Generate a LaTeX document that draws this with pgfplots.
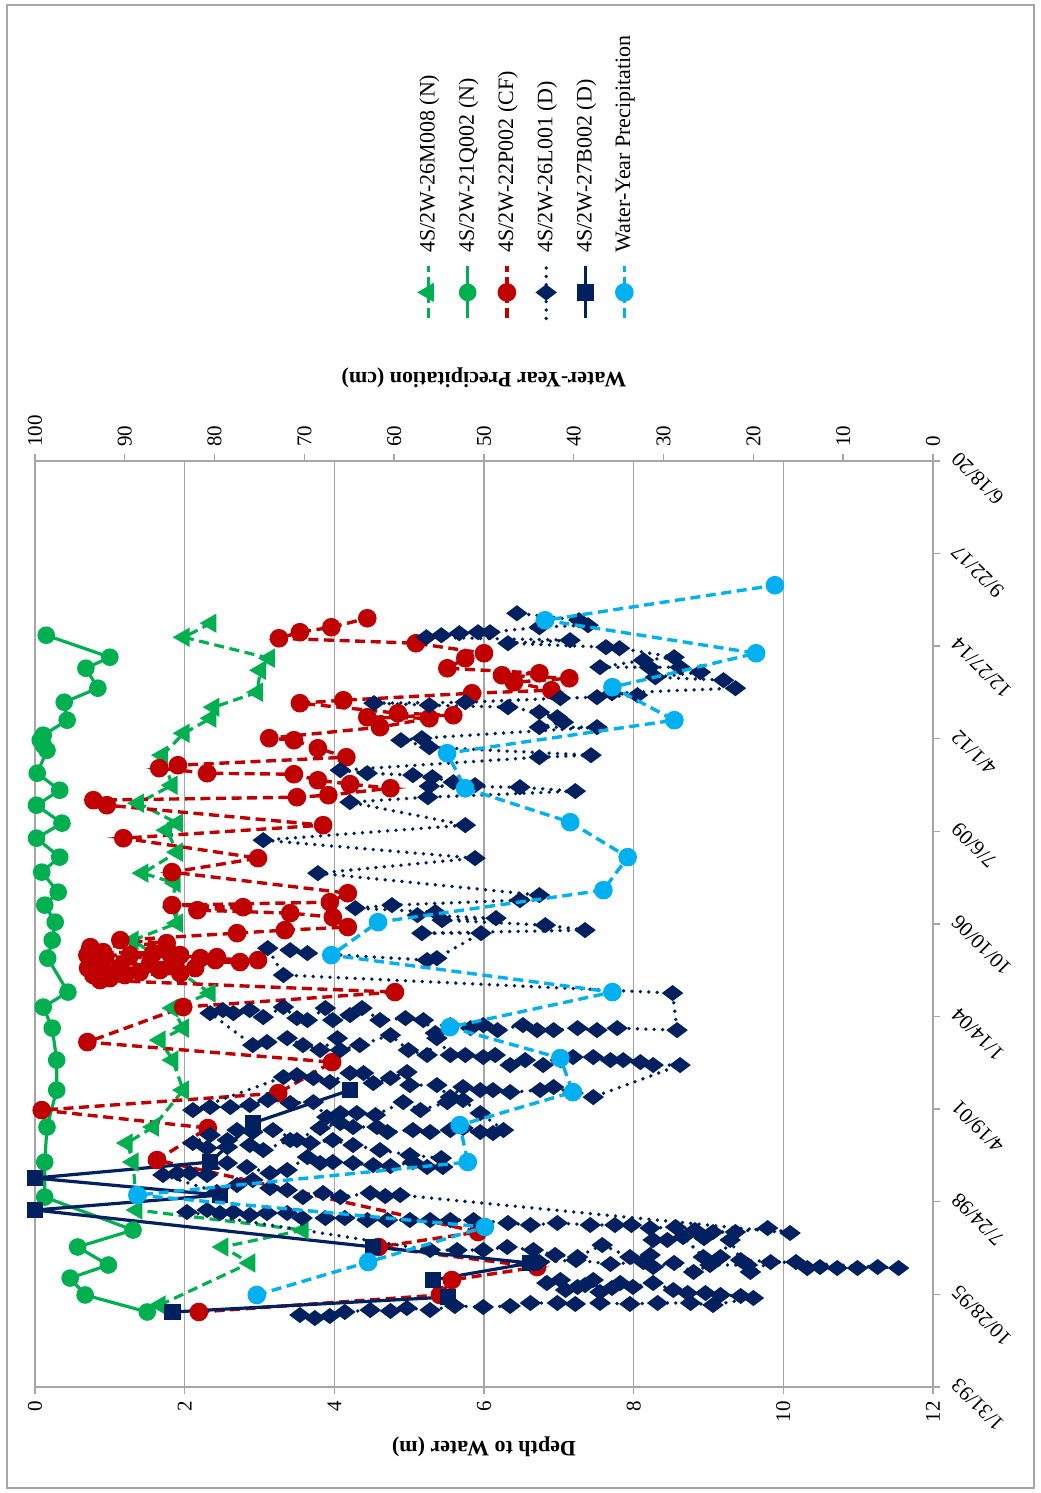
\documentclass[border=0pt]{standalone}
\usepackage{graphicx}
\usepackage{fontspec}
\setmainfont{Liberation Serif}
\usepackage{pgfplots}
\pgfplotsset{compat=1.18}
\definecolor{cgreen}{HTML}{00B050}
\definecolor{cred}{HTML}{C00000}
\definecolor{cnavy}{HTML}{002060}
\definecolor{cblue}{HTML}{00B0F0}
\definecolor{cgrid}{HTML}{A6A6A6}
\pgfplotsset{
 m26/.style={cgreen, line width=1.6pt, dash pattern=on 5pt off 2.8pt, mark=triangle*, mark size=4pt, mark options={solid, fill=cgreen}},
 q21/.style={cgreen, line width=1.6pt, solid, mark=*, mark size=3.6pt, mark options={solid, fill=cgreen}},
 p22/.style={cred, line width=1.7pt, dash pattern=on 5pt off 2.8pt, mark=*, mark size=3.8pt, mark options={solid, fill=cred}},
 l26/.style={cnavy, line width=1.9pt, line cap=round, dash pattern=on 0pt off 4.2pt, mark=diamond*, mark size=3.8pt, mark options={solid, fill=cnavy}},
 b27/.style={cnavy, line width=1.6pt, solid, mark=square*, mark size=3.3pt, mark options={solid, fill=cnavy}},
 wyp/.style={cblue, line width=1.7pt, dash pattern=on 5pt off 2.8pt, mark=*, mark size=3.8pt, mark options={solid, fill=cblue}},
}
\begin{document}%
\rotatebox{90}{%
\begin{tikzpicture}[x=1pt,y=1pt]
\useasboundingbox (0,0) rectangle (746.5,520);
\draw[cgrid, line width=0.7pt] (2.5,3) rectangle (744,516.5);
\begin{axis}[
 at={(53pt,53.5pt)}, anchor=south west,
 width=463pt, height=449pt, scale only axis,
 xmin=0, xmax=11000, ymin=0, ymax=12, y dir=reverse,
 scaled x ticks=false, scaled y ticks=false,
 clip=false,
 axis x line=none, axis y line*=left,
 axis line style={cgrid, line width=0.7pt},
 xtick=\empty, ytick={0,2,...,12},
 tick align=outside, major tick length=3.5pt,
 tick style={cgrid, line width=0.7pt},
 ymajorgrids, grid style={cgrid, line width=0.7pt},
 /pgf/number format/assume math mode=true,
 tick label style={font=\fontsize{10.5}{12}\selectfont},
 ylabel={Depth to Water (m)},
 ylabel style={font=\bfseries\fontsize{11}{13}\selectfont, at={(axis description cs:-0.065,0.5)}, anchor=center},
 legend style={draw=none, fill=none, at={(axis description cs:1.145,0.453)}, anchor=west,
   font=\fontsize{11}{13}\selectfont, row sep=6.5pt, legend cell align=left,
   /tikz/every odd column/.append style={column sep=4pt}},
 legend image code/.code={\draw[mark repeat=2,mark phase=2] plot coordinates {(0pt,0pt) (13pt,0pt) (26pt,0pt)};},
]
% 4S/2W-26M008 (N)
\addplot[m26] coordinates {
(974,1.67) (1473,2.87) (1663,2.51) (1864,3.58) (2102,1.36) (2672,1.31) (2898,1.23) (3088,1.58)
(3527,1.98) (3883,1.84) (4121,1.67) (4263,1.98) (4501,1.84) (4679,2.34) (5308,1.31) (5510,1.90)
(5700,1.84) (5985,1.87) (6104,1.44) (6353,1.90) (6614,1.76) (6698,1.90) (6935,1.38) (7149,1.83)
(7505,1.70) (7766,1.99) (7944,2.35) (8075,2.39) (8253,2.97) (8514,3.01) (8657,3.13) (8906,1.99) (9073,2.35)
};
\addlegendentry{4S/2W-26M008 (N)}
% 4S/2W-21Q002 (N)
\addplot[q21] coordinates {
(891,1.50) (1093,0.67) (1294,0.47) (1449,0.98) (1663,0.57) (1864,1.31) (2256,0.13) (2672,0.13)
(3088,0.16) (3527,0.29) (3883,0.29) (4263,0.23) (4513,0.11) (4691,0.44) (5094,0.17) (5308,0.23)
(5522,0.27) (5724,0.13) (5878,0.31) (6116,0.09) (6294,0.33) (6519,0.02) (6698,0.36) (6911,0.02)
(7089,0.33) (7291,0.03) (7564,0.16) (7624,0.11) (7683,0.07) (7743,0.11) (7921,0.43) (8134,0.39)
(8301,0.84) (8538,0.68) (8669,1.00) (8930,0.15)
};
\addlegendentry{4S/2W-21Q002 (N)}
% 4S/2W-22P002 (CF)
\addplot[p22] coordinates {
(891,2.19) (1093,5.41) (1271,5.57) (1425,6.71) (1663,4.59) (1841,5.92) (2696,1.63) (3076,2.31)
(3289,0.09) (3491,3.25) (3859,3.97) (4097,0.70) (4513,1.98) (4691,4.81)
(4833,0.87) (4857,1.00) (4893,0.78) (4893,1.20) (4916,1.94) (4928,1.40) (4952,1.67) (4976,2.14)
(4976,0.71) (4988,1.14) (5011,0.87) (5035,1.54) (5047,1.87) (5047,2.74) (5071,2.41) (5071,2.98)
(5094,2.21) (5106,0.94) (5106,2.43) (5130,0.70) (5130,1.27) (5130,1.94) (5154,1.80) (5154,1.58)
(5166,0.91) (5225,0.74) (5273,1.76) (5308,1.14)
(5391,2.70) (5427,3.34) (5463,4.18) (5581,3.98) (5629,3.41) (5664,2.17) (5700,2.78) (5724,1.83)
(5759,3.94) (5866,4.18) (6116,1.83) (6282,2.98) (6519,1.18) (6674,3.85) (6911,0.96) (6971,0.78)
(7006,3.50) (7030,3.92) (7113,4.75) (7161,4.21) (7208,3.78) (7279,3.46) (7291,2.30) (7351,1.66)
(7386,1.91) (7481,4.16) (7588,3.78) (7683,3.46) (7707,3.13) (7838,4.61) (7944,5.27) (7956,4.44)
(7980,5.59) (8004,4.85) (8123,3.54) (8158,4.12) (8241,5.84) (8277,6.90) (8372,6.40) (8419,7.14)
(8455,6.24) (8479,6.74) (8538,5.51) (8657,5.75) (8716,6.00) (8835,5.09) (8894,3.26) (8966,3.54)
(9025,3.96) (9132,4.44)
};
\addlegendentry{4S/2W-22P002 (CF)}
% 4S/2W-26L001 (D)
\addplot[l26] coordinates {
(855,3.54) (819,3.74) (843,3.94) (891,4.14) (914,4.48) (903,4.75) (938,4.97) (914,5.28) (962,5.61)
(950,5.99) (962,6.35) (998,6.62) (998,6.98) (986,7.22) (998,7.55) (986,7.95) (998,8.32) (998,8.76)
(974,9.06) (1057,9.60)
(1081,9.43) (1093,9.16) (1116,8.96) (1116,8.72) (1152,8.53) (1235,8.26) (1188,7.99) (1235,7.82)
(1176,7.71) (1128,7.55) (1271,7.46) (1211,7.35) (1188,7.25) (1152,7.09) (1271,7.02) (1235,6.84)
(1484,6.74) (1508,7.23) (1461,7.69) (1484,8.13) (1425,8.26) (1473,8.54) (1366,8.80) (1449,9.02)
(1449,9.52) (1366,9.56) (1484,9.83) (1484,10.17) (1413,10.32) (1425,10.49) (1413,10.72) (1413,10.99)
(1425,11.26) (1413,11.54)
(1508,9.43) (1746,9.29) (1544,9.16) (1544,8.93) (1781,8.66) (1746,8.45) (1746,8.26) (1568,8.22)
(1544,7.95) (1686,7.58) (1544,7.25) (1568,6.95) (1627,6.66) (1663,6.31) (1627,5.99) (1627,5.64) (1627,5.28)
(2078,2.03) (2102,2.30) (2066,2.47) (2078,2.65) (2043,2.87) (2066,3.10) (2066,3.37) (2007,3.57)
(2007,3.88) (2007,4.14) (1983,4.44) (1983,4.71) (1983,5.01) (1983,5.28) (1983,5.55) (1983,5.86)
(1948,6.32) (1924,6.62) (1948,6.98) (1924,7.42) (1924,7.75) (1924,7.97) (1888,8.22) (1900,8.56)
(1864,8.82) (1769,8.94) (1841,9.06) (1841,9.36) (1888,9.79) (1829,10.09)
(2280,4.88) (2268,4.68) (2304,4.48) (2256,4.08) (2304,3.85) (2256,3.58) (2339,3.37) (2363,3.14)
(2458,2.91) (2399,2.70) (2316,2.43)
(2518,1.71) (2541,1.90) (2541,2.07) (2518,2.30) (2660,2.57) (2613,2.83) (2541,3.14) (2577,3.37)
(2731,3.64) (2660,3.81) (2672,3.98) (2660,4.25) (2636,4.52) (2624,4.75) (2672,5.05) (2613,5.24) (2613,5.45)
(2719,5.43) (2755,5.01) (2814,4.61) (2874,4.25) (2933,3.98) (2898,3.68) (2933,3.41) (2814,3.05)
(2874,2.87) (2850,2.57) (2838,2.30) (2898,2.11)
(2993,2.34) (2933,2.57) (3052,2.70) (3028,2.91) (3052,3.18) (2933,3.50) (3076,3.81) (3135,4.08)
(3088,4.25) (3088,4.57) (3028,4.71) (3052,5.05) (3028,5.28) (3052,5.55) (3076,5.72) (3028,5.95)
(3016,6.12) (3052,6.26)
(3254,5.95) (3408,5.72) (3384,5.51) (3289,5.15) (3384,4.92) (3230,4.55) (3254,4.30) (3254,4.08)
(3206,3.90) (3384,3.72) (3373,3.41) (3408,3.11) (3349,2.87) (3325,2.61) (3325,2.34) (3289,2.11)
(3681,3.32) (3705,3.50) (3669,3.72) (3622,3.94) (3729,4.21) (3729,4.39) (3610,4.52) (3669,4.75)
(3741,4.97) (3586,5.01) (3586,5.37) (3444,5.55) (3563,5.72) (3527,5.95) (3527,6.12) (3503,6.35)
(3527,6.75) (3563,6.93) (3491,7.19) (3444,7.46)
(3824,8.62) (3824,8.26) (3859,8.09) (3883,7.86) (3883,7.69) (3919,7.46) (3919,7.19) (3883,7.02)
(3824,6.79) (3883,6.55) (3824,6.35) (3943,6.15) (3919,5.99) (3943,5.75) (3943,5.55) (4144,5.37)
(3943,5.24) (4002,4.99) (4180,4.75) (4061,4.34) (4002,4.08) (4144,4.04) (4002,3.81) (4061,3.58)
(4144,3.37) (4097,3.10) (4061,2.91)
(4441,2.34) (4477,2.51) (4441,2.65) (4477,2.87) (4394,3.05) (4513,3.32) (4382,3.50) (4358,3.64)
(4501,3.88) (4358,3.98) (4418,4.21) (4501,4.37) (4358,4.61) (4382,4.95) (4358,5.19) (4204,5.35)
(4299,5.55) (4263,5.82) (4299,5.99) (4239,6.18) (4299,6.52) (4239,6.71) (4239,6.93) (4263,7.25)
(4239,7.51) (4263,7.78) (4239,8.58)
(4679,8.52) (4893,3.32)
(5213,3.11) (5189,3.41) (5154,3.64) (5071,5.24) (5094,5.37)
(5391,5.96) (5391,5.17) (5427,7.35) (5486,6.82) (5546,5.44) (5569,6.16) (5605,5.11) (5641,5.35)
(5688,4.28) (5724,4.77) (5783,6.48) (5843,6.74)
(6104,3.78) (6282,5.88) (6496,3.05) (6674,5.75) (6947,4.21)
(7006,5.25) (7078,7.22) (7125,6.48) (7137,5.27) (7149,5.88) (7184,5.59) (7244,5.31) (7268,5.05)
(7291,4.44) (7327,4.08)
(7481,6.74) (7505,7.43) (7600,5.27) (7683,4.89) (7707,5.17)
(7838,7.51) (7838,6.74) (7897,7.06) (7956,6.98) (8016,6.74)
(8075,6.32) (8099,5.27) (8123,4.53) (8134,5.75) (8182,7.02) (8194,7.51) (8218,8.05)
(8241,7.71) (8301,9.36) (8396,9.20) (8431,8.29) (8491,8.89) (8550,8.62) (8550,8.21) (8550,7.55)
(8633,8.13) (8669,8.54)
(8776,7.81) (8788,7.63) (8835,6.32) (8871,7.15) (8906,5.23) (8930,5.43) (8954,5.67) (8966,5.92)
(8966,6.08) (9025,6.74) (9049,7.39)
(9108,7.27) (9191,6.44)
};
\addlegendentry{4S/2W-26L001 (D)}
% 4S/2W-27B002 (D)
\addplot[b27] coordinates {
(891,1.84) (1069,5.52) (1271,5.32) (1473,6.62) (1663,4.52) (2102,0.00) (2280,2.47) (2482,0.00)
(2672,2.34) (3135,2.91) (3527,4.21)
};
\addlegendentry{4S/2W-27B002 (D)}
\addlegendimage{wyp}
\addlegendentry{Water-Year Precipitation}
\end{axis}
\begin{axis}[
 at={(53pt,53.5pt)}, anchor=south west,
 width=463pt, height=449pt, scale only axis,
 xmin=0, xmax=11000, ymin=0, ymax=100,
 scaled x ticks=false, scaled y ticks=false,
 clip=false,
 axis x line*=bottom, axis y line*=right,
 axis line style={cgrid, line width=0.7pt},
 xtick={0,1100,...,11000},
 xticklabels={1/31/93,10/28/95,7/24/98,4/19/01,1/14/04,10/10/06,7/6/09,4/1/12,12/27/14,9/22/17,6/18/20},
 ytick={0,10,...,100},
 tick align=outside, major tick length=3.5pt,
 tick style={cgrid, line width=0.7pt},
 /pgf/number format/assume math mode=true,
 tick label style={font=\fontsize{10.5}{12}\selectfont},
 xticklabel style={rotate=45, anchor=north east},
 ylabel={Water-Year Precipitation (cm)},
 ylabel style={font=\bfseries\fontsize{11}{13}\selectfont, at={(axis description cs:1.09,0.5)}, anchor=center},
]
\addplot[wyp] coordinates {
(1093,75.3) (1484,62.9) (1900,49.9) (2280,88.6) (2672,51.8) (3111,52.7) (3503,40.1) (3907,41.5)
(4275,53.8) (4691,35.7) (5130,67.0) (5522,61.8) (5902,36.7) (6294,34.0) (6709,40.4) (7113,52.1)
(7529,54.1) (7921,28.8) (8313,35.7) (8716,19.7) (9108,43.2) (9524,17.6)
};
\end{axis}
\end{tikzpicture}}%
\end{document}
